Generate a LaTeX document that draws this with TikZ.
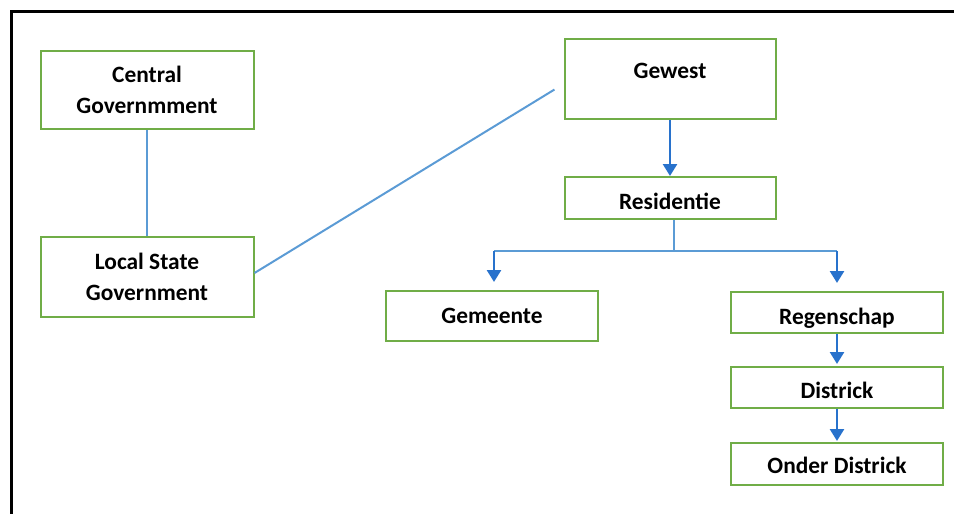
\documentclass[tikz,border=0pt]{standalone}
\usepackage{fontspec}
\setmainfont{Carlito}
\usepackage{xcolor}
\usepackage{tikz}
\usetikzlibrary{arrows.meta,calc,positioning}

\definecolor{boxgreen}{RGB}{112,173,71}
\definecolor{lineblue}{RGB}{91,155,213}
\definecolor{arrowblue}{RGB}{40,114,204}

\begin{document}
\begin{tikzpicture}[x=0.5pt,y=-0.5pt,font=\fontsize{11.7}{15.5}\selectfont\bfseries,>={Triangle[width=7pt,length=6pt]},
  unit/.style={draw=boxgreen,line width=1pt,align=center,inner sep=0pt},
  sink/.style={text height=#1,text depth=0pt},
  link/.style={lineblue,line width=1pt},
  down/.style={->,arrowblue,line width=1.3pt,shorten >=0.5pt}]
  \useasboundingbox (0,0) rectangle (954,514);
  \draw[line width=1.5pt] (11,514) -- (11,11) -- (954,11);
  \node[unit,minimum width=106.5pt,minimum height=39pt] (central) at (147,90) {Central\\Governmment};
  \node[unit,minimum width=106.5pt,minimum height=40pt] (local) at (147,277) {Local State\\Government};
  \node[unit,minimum width=105.5pt,minimum height=40pt,text height=8pt,text depth=8.7pt] (gewest) at (670,79) {Gewest};
  \node[unit,sink=11pt,minimum width=105.5pt,minimum height=21pt] (resid) at (670,198) {Residentie};
  \node[unit,sink=7pt,minimum width=106pt,minimum height=25pt] (gemeente) at (492,316) {Gemeente};
  \node[unit,sink=11.5pt,minimum width=106pt,minimum height=20.5pt] (regen) at (837,312.5) {Regenschap};
  \node[unit,sink=10.5pt,minimum width=106pt,minimum height=20.5pt] (districk) at (837,387.5) {Districk};
  \node[unit,sink=9pt,minimum width=106pt,minimum height=21pt] (onder) at (837,464) {Onder Districk};
  \draw[link] (central) -- (local);
  \draw[link,shorten >=5.3pt] ([yshift=2pt]local.east) -- ([yshift=-2.5pt]gewest.west);
  \draw[down,shorten >=0pt] (gewest) -- (resid);
  \coordinate (fork) at ($(resid.south)+(4,31)$);
  \coordinate (forkL) at ($(gemeente.north |- fork)+(2,0)$);
  \coordinate (forkR) at (regen.north |- fork);
  \draw[link] (resid.south -| fork) -- (fork);
  \draw[link] (forkL) -- (forkR);
  \draw[down,shorten >=4pt] (forkL) -- (forkL |- gemeente.north);
  \draw[down,shorten >=4pt] (forkR) -- (regen);
  \draw[down,shorten >=1pt] (regen) -- (districk);
  \draw[down] (districk) -- (onder);
\end{tikzpicture}
\end{document}
